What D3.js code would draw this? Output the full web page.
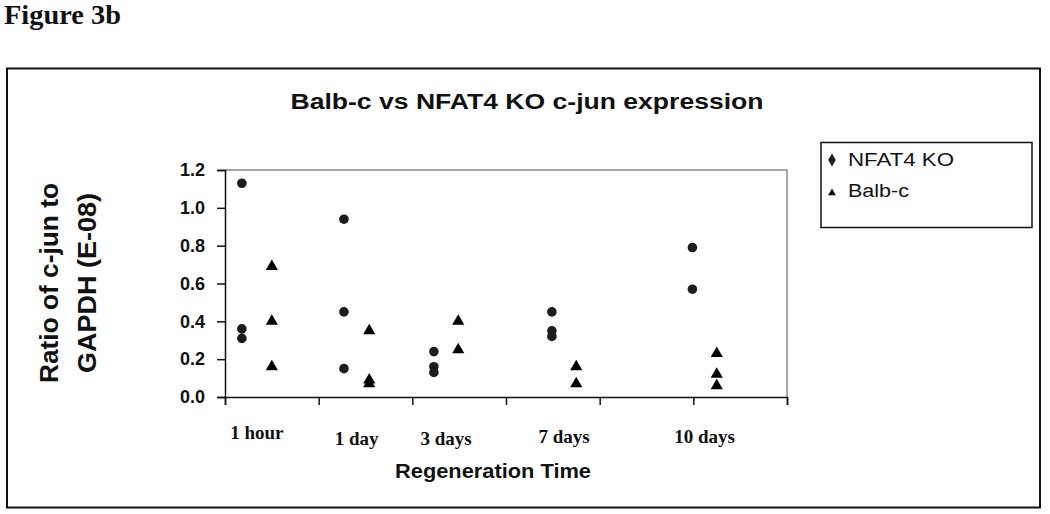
<!DOCTYPE html>
<html>
<head>
<meta charset="utf-8">
<script src="https://cdn.jsdelivr.net/npm/d3@7"></script>
<style>
  body { margin: 0; background: #fff; }
  text { fill: #111; }
</style>
</head>
<body>
<svg id="chart" width="1050" height="514"></svg>
<script>
// chart data
const timeLabels = ["1 hour", "1 day", "3 days", "7 days", "10 days"];
const koX = [0.18, 1.27, 2.23, 3.49, 4.99];
const balbX = [0.5, 1.54, 2.49, 3.75, 5.25];
const koValues = [
    [1.13, 0.36, 0.31],
    [0.94, 0.45, 0.15],
    [0.24, 0.16, 0.13],
    [0.45, 0.35, 0.32],
    [0.79, 0.57]
];
const balbValues = [
    [0.69, 0.40, 0.16],
    [0.35, 0.09, 0.07],
    [0.40, 0.25],
    [0.16, 0.07],
    [0.23, 0.12, 0.06]
];
const yTicks = [0, 0.2, 0.4, 0.6, 0.8, 1.0, 1.2];
const xTicks = [0, 1, 2, 3, 4, 5, 6];
const seriesNames = ["NFAT4 KO", "Balb-c"];

const svg = d3.select("#chart");
const sans = "'Liberation Sans', Arial, sans-serif";
const serif = "'Liberation Serif', 'Times New Roman', serif";

// plot area
const plot = {left: 225, top: 170, right: 787, bottom: 397};

const x = d3.scaleLinear().domain([0, 6]).range([plot.left, plot.right]);
const y = d3.scaleLinear().domain([0, 1.2]).range([plot.bottom, plot.top]);

// figure caption
svg.append("text")
    .attr("x", 4).attr("y", 24)
    .attr("font-family", serif).attr("font-weight", "bold").attr("font-size", 27)
    .attr("textLength", 117).attr("lengthAdjust", "spacingAndGlyphs")
    .text("Figure 3b");

// outer chart frame
svg.append("rect")
    .attr("x", 7).attr("y", 68.5).attr("width", 1033).attr("height", 439)
    .attr("fill", "none").attr("stroke", "#111").attr("stroke-width", 2);

// title
svg.append("text")
    .attr("x", 527).attr("y", 109)
    .attr("text-anchor", "middle")
    .attr("font-family", sans).attr("font-weight", "bold").attr("font-size", 22)
    .attr("textLength", 473).attr("lengthAdjust", "spacingAndGlyphs")
    .text("Balb-c vs NFAT4 KO c-jun expression");

// plot border (top & right are grey)
svg.append("path")
    .attr("d", `M${plot.left},${plot.top}H${plot.right}V${plot.bottom}`)
    .attr("fill", "none").attr("stroke", "#8a8a8a").attr("stroke-width", 1.5);

// y axis
const yAxis = svg.append("g")
    .attr("transform", `translate(${plot.left},0)`)
    .call(d3.axisLeft(y).tickValues(yTicks).tickFormat(d3.format(".1f")).tickSize(8).tickPadding(12));
yAxis.select(".domain").attr("stroke", "#111").attr("stroke-width", 1.5);
yAxis.selectAll(".tick line").attr("stroke", "#111").attr("stroke-width", 1.5);
yAxis.selectAll(".tick text")
    .attr("font-family", sans).attr("font-weight", "bold").attr("font-size", 18)
    .attr("fill", "#111");

// x axis (ticks only, labels drawn separately)
const xAxis = svg.append("g")
    .attr("transform", `translate(0,${plot.bottom})`)
    .call(d3.axisBottom(x).tickValues(xTicks).tickFormat("").tickSize(8));
xAxis.select(".domain").attr("stroke", "#111").attr("stroke-width", 1.5);
xAxis.selectAll(".tick line").attr("stroke", "#111").attr("stroke-width", 1.5);

// category labels sit between the two series of each group
const labelBase = [439, 445, 445, 443, 443];
svg.append("g").selectAll("text")
    .data(timeLabels)
    .join("text")
    .attr("x", (d, i) => x((koX[i] + balbX[i]) / 2))
    .attr("y", (d, i) => labelBase[i])
    .attr("text-anchor", "middle")
    .attr("font-family", serif).attr("font-weight", "bold").attr("font-size", 19)
    .text(d => d);

// axis titles
svg.append("text")
    .attr("x", 493).attr("y", 478)
    .attr("text-anchor", "middle")
    .attr("font-family", sans).attr("font-weight", "bold").attr("font-size", 21)
    .attr("textLength", 196).attr("lengthAdjust", "spacingAndGlyphs")
    .text("Regeneration Time");

const yTitle = svg.append("g").attr("transform", "translate(0,283) rotate(-90)");
yTitle.append("text")
    .attr("x", 0).attr("y", 58)
    .attr("text-anchor", "middle")
    .attr("font-family", sans).attr("font-weight", "bold").attr("font-size", 26)
    .attr("textLength", 200).attr("lengthAdjust", "spacingAndGlyphs")
    .text("Ratio of c-jun to");
yTitle.append("text")
    .attr("x", 0).attr("y", 96)
    .attr("text-anchor", "middle")
    .attr("font-family", sans).attr("font-weight", "bold").attr("font-size", 26)
    .attr("textLength", 180).attr("lengthAdjust", "spacingAndGlyphs")
    .text("GAPDH (E-08)");

// flatten points
let koPoints = [];
koValues.forEach((vals, i) => vals.forEach(v => koPoints.push({x: koX[i], y: v})));
let balbPoints = [];
balbValues.forEach((vals, i) => vals.forEach(v => balbPoints.push({x: balbX[i], y: v})));

// NFAT4 KO markers
svg.append("g").selectAll("circle")
    .data(koPoints)
    .join("circle")
    .attr("cx", d => x(d.x))
    .attr("cy", d => y(d.y))
    .attr("r", 4.8)
    .attr("fill", "#1c1c1c");

// Balb-c markers
const tri = d3.symbol().type(d3.symbolTriangle).size(64);
svg.append("g").selectAll("path")
    .data(balbPoints)
    .join("path")
    .attr("transform", d => `translate(${x(d.x)},${y(d.y)})`)
    .attr("d", tri)
    .attr("fill", "#000");

// legend
const legend = svg.append("g");
legend.append("rect")
    .attr("x", 821).attr("y", 142.5).attr("width", 211).attr("height", 85)
    .attr("fill", "#fff").attr("stroke", "#111").attr("stroke-width", 1.5);
legend.append("path")
    .attr("transform", "translate(832,160)")
    .attr("d", d3.symbol().type(d3.symbolDiamond).size(50))
    .attr("fill", "#1c1c1c");
legend.append("path")
    .attr("transform", "translate(832,193)")
    .attr("d", d3.symbol().type(d3.symbolTriangle).size(26))
    .attr("fill", "#000");
legend.selectAll("text.lg")
    .data(seriesNames)
    .join("text")
    .attr("class", "lg")
    .attr("x", 848)
    .attr("y", (d, i) => 166 + i * 31)
    .attr("font-family", sans).attr("font-size", 18)
    .attr("textLength", (d, i) => i === 0 ? 106 : 61)
    .attr("lengthAdjust", "spacingAndGlyphs")
    .text(d => d);
</script>
</body>
</html>
